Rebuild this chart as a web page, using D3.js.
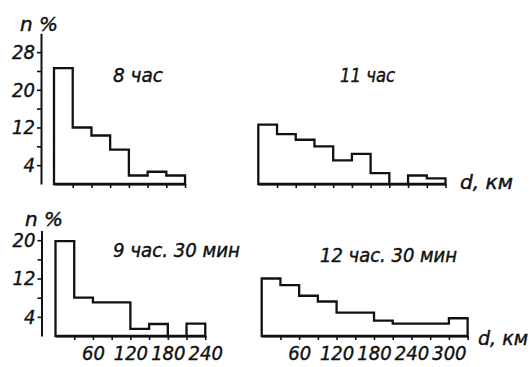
<!DOCTYPE html>
<html>
<head>
<meta charset="utf-8">
<script src="https://cdn.jsdelivr.net/npm/d3@7/dist/d3.min.js"></script>
<style>
  html, body { margin: 0; padding: 0; background: #fff; }
  svg { display: block; }
  text { font-family: "Liberation Sans Narrow", "DejaVu Sans Condensed", "Liberation Sans", sans-serif; font-style: italic; fill: #111; stroke: #111; stroke-width: 0.4px; }
</style>
</head>
<body>
<svg id="chart" width="530" height="367"></svg>
<script>
// ---- data (percent of cases per 30-km distance bin) ----
const binKm = 30;
const hist8 = [24.6, 12.0, 10.3, 7.3, 1.8, 2.6, 1.8];                    // 8 час
const hist11 = [12.6, 10.6, 9.4, 8.0, 5.0, 6.4, 2.3, 0, 1.8, 1.2];       // 11 час
const hist930 = [19.8, 8.0, 7.0, 7.0, 1.5, 2.5, 0, 2.6];                  // 9 час. 30 мин
const hist1230 = [12.0, 10.6, 8.4, 7.2, 4.9, 4.9, 3.2, 2.6, 2.6, 2.6, 3.7]; // 12 час. 30 мин
const titles = ["8 час", "11 час", "9 час. 30 мин", "12 час. 30 мин"];
const yTicksTop = [4, 8, 12, 16, 20, 24, 28];
const yLabelsTop = [4, 12, 20, 28];
const yTicksBottom = [4, 8, 12, 16, 20];
const yLabelsBottom = [4, 12, 20];
const xLabels = [60, 120, 180, 240, 300];
const yUnit = "n %";
const xUnit = "d, км";

const svg = d3.select("#chart");
const pxPerKm = 0.624;

const yTop = d3.scaleLinear().domain([0, 32]).range([184, 33.3]);
const yBot = d3.scaleLinear().domain([0, 22]).range([336, 230.6]);

function styleAxis(g) {
  g.attr("font-family", null).attr("font-size", null);
  g.select(".domain").attr("stroke", "#111").attr("stroke-width", 2);
  g.selectAll(".tick line").attr("stroke", "#111").attr("stroke-width", 1.6);
  g.selectAll(".tick text").style("font-size", "20px").style("font-style", "italic").attr("fill", "#111");
}

function drawYAxis(y, ticks, labels, xPos) {
  const g = svg.append("g").attr("transform", `translate(${xPos},0)`)
    .call(d3.axisLeft(y).tickValues(ticks).tickSize(4).tickSizeOuter(0).tickPadding(2)
      .tickFormat(d => labels.includes(d) ? d : ""));
  styleAxis(g);
  return g;
}

function drawHist(data, x0, y, showLabels) {
  const maxKm = data.length * binKm;
  const x = d3.scaleLinear().domain([0, maxKm]).range([x0, x0 + maxKm * pxPerKm]);
  const pts = [[0, 0]];
  data.forEach((v, i) => { pts.push([i * binKm, v]); pts.push([(i + 1) * binKm, v]); });
  pts.push([maxKm, 0]);
  const line = d3.line().x(d => x(d[0])).y(d => y(d[1]));
  const ticks = d3.range(binKm, maxKm + 1, binKm);
  const g = svg.append("g").attr("transform", `translate(0,${y(0)})`)
    .call(d3.axisBottom(x).tickValues(ticks).tickSize(4).tickSizeOuter(0).tickPadding(6)
      .tickFormat(d => showLabels && xLabels.includes(d) ? d : ""));
  styleAxis(g);
  svg.append("path").attr("d", line(pts) + "Z")
    .attr("fill", "none").attr("stroke", "#111").attr("stroke-width", 2.3)
    .attr("stroke-linejoin", "miter");
}

drawYAxis(yTop, yTicksTop, yLabelsTop, 41);
drawYAxis(yBot, yTicksBottom, yLabelsBottom, 41.5);

drawHist(hist8, 54, yTop, false);
drawHist(hist11, 258.3, yTop, false);
drawHist(hist930, 55.5, yBot, true);
drawHist(hist1230, 261.7, yBot, true);

function txt(s, x, y, size, len) {
  const t = svg.append("text").attr("x", x).attr("y", y).style("font-size", size + "px").text(s);
  if (len) t.attr("textLength", len).attr("lengthAdjust", "spacingAndGlyphs");
  return t;
}
txt(yUnit, 20, 31, 20, 38);
txt(yUnit, 25, 226, 19, 38);
txt(titles[0], 113, 82, 20, 50);
txt(titles[1], 340, 82, 20, 55);
txt(titles[2], 113, 257, 19, 127);
txt(titles[3], 320, 262, 19, 137);
txt(xUnit, 460, 189, 20, 53);
txt(xUnit, 478, 345, 20, 50);
</script>
</body>
</html>
